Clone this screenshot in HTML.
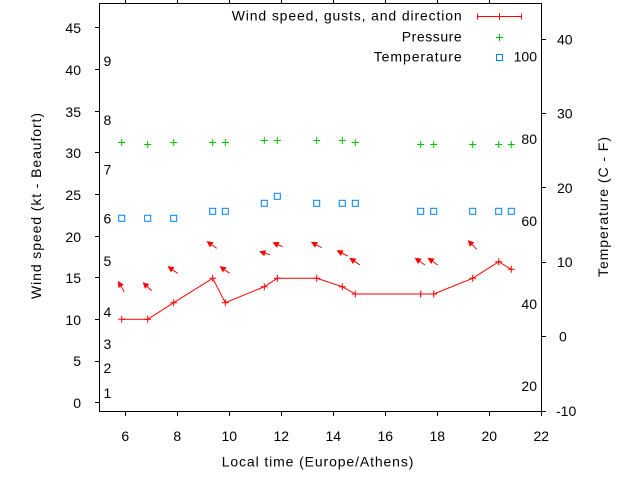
<!DOCTYPE html>
<html><head><meta charset="utf-8"><style>
html,body{margin:0;padding:0;background:#fff;}
svg{display:block;}
text{font-family:"Liberation Sans",Arial,sans-serif;font-size:14px;fill:#000;}
</style></head><body>
<svg width="640" height="480" viewBox="0 0 640 480" xmlns="http://www.w3.org/2000/svg">
<rect x="0" y="0" width="640" height="480" fill="#fff"/>
<rect x="99.5" y="3.5" width="442" height="408" fill="none" stroke="#000" stroke-width="1"/>
<g stroke="#000" stroke-width="1">
<line x1="95" y1="402.5" x2="99.5" y2="402.5"/>
<line x1="95" y1="361.5" x2="99.5" y2="361.5"/>
<line x1="95" y1="319.5" x2="99.5" y2="319.5"/>
<line x1="95" y1="277.5" x2="99.5" y2="277.5"/>
<line x1="95" y1="236.5" x2="99.5" y2="236.5"/>
<line x1="95" y1="194.5" x2="99.5" y2="194.5"/>
<line x1="95" y1="152.5" x2="99.5" y2="152.5"/>
<line x1="95" y1="111.5" x2="99.5" y2="111.5"/>
<line x1="95" y1="69.5" x2="99.5" y2="69.5"/>
<line x1="95" y1="27.5" x2="99.5" y2="27.5"/>
<line x1="125.5" y1="411.5" x2="125.5" y2="416"/>
<line x1="177.5" y1="411.5" x2="177.5" y2="416"/>
<line x1="229.5" y1="411.5" x2="229.5" y2="416"/>
<line x1="281.5" y1="411.5" x2="281.5" y2="416"/>
<line x1="333.5" y1="411.5" x2="333.5" y2="416"/>
<line x1="385.5" y1="411.5" x2="385.5" y2="416"/>
<line x1="437.5" y1="411.5" x2="437.5" y2="416"/>
<line x1="489.5" y1="411.5" x2="489.5" y2="416"/>
<line x1="541.5" y1="411.5" x2="541.5" y2="416"/>
<line x1="125.5" y1="0" x2="125.5" y2="3.5"/>
<line x1="177.5" y1="0" x2="177.5" y2="3.5"/>
<line x1="229.5" y1="0" x2="229.5" y2="3.5"/>
<line x1="281.5" y1="0" x2="281.5" y2="3.5"/>
<line x1="333.5" y1="0" x2="333.5" y2="3.5"/>
<line x1="385.5" y1="0" x2="385.5" y2="3.5"/>
<line x1="437.5" y1="0" x2="437.5" y2="3.5"/>
<line x1="489.5" y1="0" x2="489.5" y2="3.5"/>
<line x1="541.5" y1="411.5" x2="546" y2="411.5"/>
<line x1="541.5" y1="336.5" x2="546" y2="336.5"/>
<line x1="541.5" y1="262.5" x2="546" y2="262.5"/>
<line x1="541.5" y1="187.5" x2="546" y2="187.5"/>
<line x1="541.5" y1="113.5" x2="546" y2="113.5"/>
<line x1="541.5" y1="39.5" x2="546" y2="39.5"/>
</g>
<g text-anchor="end">
<text x="81" y="408">0</text>
<text x="81" y="366">5</text>
<text x="81" y="325">10</text>
<text x="81" y="283">15</text>
<text x="81" y="242">20</text>
<text x="81" y="200">25</text>
<text x="81" y="158">30</text>
<text x="81" y="117">35</text>
<text x="81" y="75">40</text>
<text x="81" y="33">45</text>
</g>
<g text-anchor="middle">
<text x="125.3" y="441">6</text>
<text x="177.3" y="441">8</text>
<text x="229.3" y="441">10</text>
<text x="281.3" y="441">12</text>
<text x="333.3" y="441">14</text>
<text x="385.3" y="441">16</text>
<text x="437.3" y="441">18</text>
<text x="489.3" y="441">20</text>
<text x="541.3" y="441">22</text>
</g>
<g>
<text x="556" y="416">-10</text>
<text x="559" y="341.5">0</text>
<text x="557" y="267">10</text>
<text x="557" y="193">20</text>
<text x="557" y="118.5">30</text>
<text x="557" y="44.5">40</text>
</g>
<g text-anchor="end">
<text x="537" y="391">20</text>
<text x="537" y="309">40</text>
<text x="537" y="226">60</text>
<text x="537" y="144">80</text>
<text x="537" y="61.5">100</text>
</g>
<g>
<text x="103.5" y="398">1</text>
<text x="103.5" y="373">2</text>
<text x="103.5" y="349">3</text>
<text x="103.5" y="317">4</text>
<text x="103.5" y="266">5</text>
<text x="103.5" y="223.5">6</text>
<text x="103.5" y="174.5">7</text>
<text x="103.5" y="125">8</text>
<text x="103.5" y="66">9</text>
</g>
<text x="221.7" y="466.7" textLength="191.7" lengthAdjust="spacing">Local time (Europe/Athens)</text>
<text transform="translate(41,206) rotate(-90)" text-anchor="middle" textLength="186" lengthAdjust="spacing">Wind speed (kt - Beaufort)</text>
<text transform="translate(608,207) rotate(-90)" text-anchor="middle" textLength="140" lengthAdjust="spacing">Temperature (C - F)</text>
<text x="461.7" y="20.7" text-anchor="end" textLength="230" lengthAdjust="spacing">Wind speed, gusts, and direction</text>
<text x="461.7" y="41.5" text-anchor="end" textLength="60" lengthAdjust="spacing">Pressure</text>
<text x="461.7" y="61.7" text-anchor="end" textLength="88" lengthAdjust="spacing">Temperature</text>
<g stroke="#ff0000" stroke-width="1">
<line x1="477.5" y1="16.5" x2="521.5" y2="16.5"/>
<line x1="477.5" y1="13.5" x2="477.5" y2="19.5"/>
<line x1="521.5" y1="13.5" x2="521.5" y2="19.5"/>
<line x1="499.5" y1="13" x2="499.5" y2="20"/>
</g>
<g stroke="#00c000" stroke-width="1">
<line x1="496" y1="37.5" x2="503" y2="37.5"/>
<line x1="499.5" y1="34" x2="499.5" y2="41"/>
</g>
<rect x="496.5" y="54.5" width="6" height="6" fill="none" stroke="#0080ff" stroke-width="1"/>
<g stroke="#00c000" stroke-width="1" fill="none">
<path d="M118.2 142.5h7M121.7 139v7
M144.2 144.5h7M147.7 141v7
M170.2 142.5h7M173.7 139v7
M209.2 142.5h7M212.7 139v7
M221.8 142.5h7M225.3 139v7
M260.8 140.5h7M264.3 137v7
M273.8 140.5h7M277.3 137v7
M313.2 140.5h7M316.7 137v7
M338.8 140.5h7M342.3 137v7
M351.8 142.5h7M355.3 139v7
M417.2 144.5h7M420.7 141v7
M430.2 144.5h7M433.7 141v7
M469.2 144.5h7M472.7 141v7
M495.2 144.5h7M498.7 141v7
M507.8 144.5h7M511.3 141v7"/>
</g>
<g stroke="#0080ff" stroke-width="1" fill="none">
<rect x="118.7" y="215.3" width="6" height="6"/>
<rect x="144.7" y="215.3" width="6" height="6"/>
<rect x="170.7" y="215.3" width="6" height="6"/>
<rect x="209.7" y="208.3" width="6" height="6"/>
<rect x="222.3" y="208.3" width="6" height="6"/>
<rect x="261.3" y="200.3" width="6" height="6"/>
<rect x="274.3" y="193.3" width="6" height="6"/>
<rect x="313.7" y="200.3" width="6" height="6"/>
<rect x="339.3" y="200.3" width="6" height="6"/>
<rect x="352.3" y="200.3" width="6" height="6"/>
<rect x="417.7" y="208.3" width="6" height="6"/>
<rect x="430.7" y="208.3" width="6" height="6"/>
<rect x="469.7" y="208.3" width="6" height="6"/>
<rect x="495.7" y="208.3" width="6" height="6"/>
<rect x="508.3" y="208.3" width="6" height="6"/>
</g>
<polyline fill="none" stroke="#ff0000" stroke-width="1" points="121.7,319.3 147.7,319.3 173.7,302.7 212.7,278.3 225.3,302.7 264.3,286.7 277.3,278.3 316.7,278.3 342.3,286.7 355.3,294 420.7,294 433.7,294 472.7,278.3 498.7,261.7 511.3,269.3"/>
<g stroke="#ff0000" stroke-width="1" fill="none">
<path d="M118.2 319.3h7M121.7 315.8v7
M144.2 319.3h7M147.7 315.8v7
M170.2 302.7h7M173.7 299.2v7
M209.2 278.3h7M212.7 274.8v7
M221.8 302.7h7M225.3 299.2v7
M260.8 286.7h7M264.3 283.2v7
M273.8 278.3h7M277.3 274.8v7
M313.2 278.3h7M316.7 274.8v7
M338.8 286.7h7M342.3 283.2v7
M351.8 294h7M355.3 290.5v7
M417.2 294h7M420.7 290.5v7
M430.2 294h7M433.7 290.5v7
M469.2 278.3h7M472.7 274.8v7
M495.2 261.7h7M498.7 258.2v7
M507.8 269.3h7M511.3 265.8v7"/>
</g>
<g stroke="#ff0000" stroke-width="1" fill="none">
<line x1="124.3" y1="291.7" x2="120.9" y2="286.0"/>
<line x1="151.7" y1="290.7" x2="146.9" y2="286.2"/>
<line x1="177.7" y1="273.3" x2="172.4" y2="269.6"/>
<line x1="216.7" y1="248.3" x2="211.4" y2="244.6"/>
<line x1="229.7" y1="273.3" x2="224.4" y2="269.6"/>
<line x1="270" y1="254.7" x2="264.8" y2="253.1"/>
<line x1="282.7" y1="246.7" x2="277.9" y2="244.7"/>
<line x1="321.7" y1="247.7" x2="316.1" y2="244.7"/>
<line x1="347.7" y1="256" x2="341.8" y2="253.0"/>
<line x1="360" y1="265" x2="354.2" y2="261.1"/>
<line x1="425" y1="265" x2="419.5" y2="261.1"/>
<line x1="437.7" y1="265" x2="432.5" y2="261.1"/>
<line x1="476.7" y1="249.3" x2="471.8" y2="244.3"/>
</g>
<g fill="#ff0000" stroke="#ff0000" stroke-width="0.8" stroke-linejoin="miter">
<polygon points="118.3,281.7 123.0,284.7 118.8,287.3"/>
<polygon points="143.3,282.7 148.6,284.4 145.2,288.0"/>
<polygon points="168.3,266.7 173.8,267.5 171.0,271.6"/>
<polygon points="207.3,241.7 212.8,242.5 210.0,246.6"/>
<polygon points="220.3,266.7 225.8,267.5 223.0,271.6"/>
<polygon points="260,251.7 265.5,250.7 264.1,255.5"/>
<polygon points="273.3,242.7 278.9,242.4 276.9,247.0"/>
<polygon points="311.7,242.3 317.3,242.5 314.9,246.9"/>
<polygon points="337.3,250.7 342.9,250.8 340.7,255.2"/>
<polygon points="350,258.3 355.6,259.0 352.8,263.2"/>
<polygon points="415.3,258.3 420.9,259.0 418.1,263.2"/>
<polygon points="428.3,258.3 433.9,259.0 431.1,263.2"/>
<polygon points="468.3,240.7 473.6,242.5 470.0,246.0"/>
</g>
</svg>
</body></html>
